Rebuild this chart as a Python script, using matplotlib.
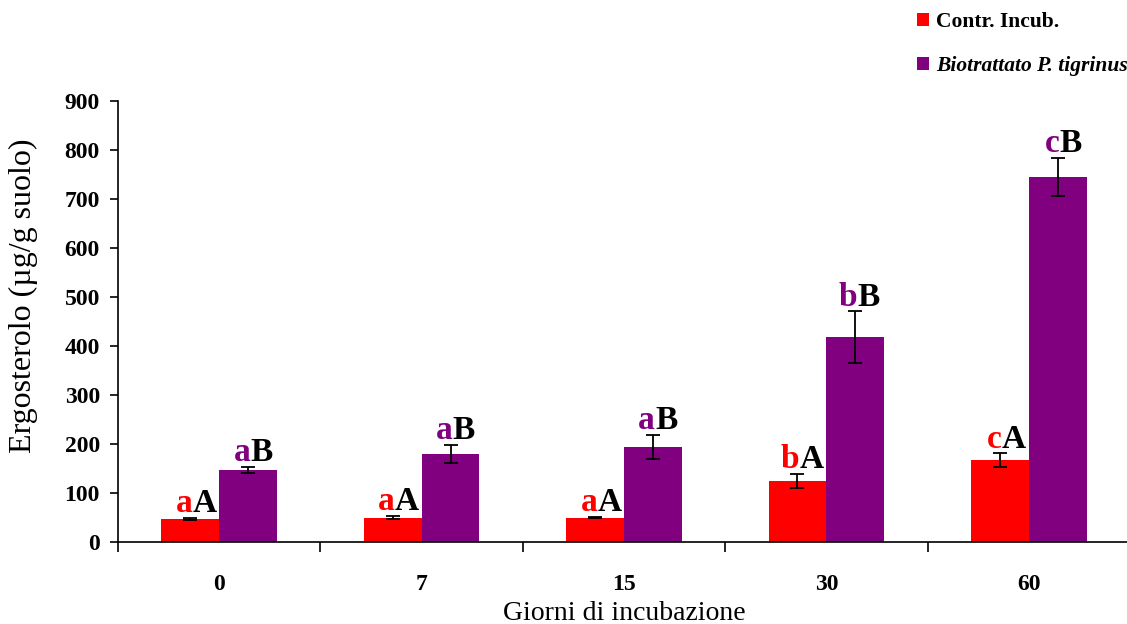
import matplotlib.pyplot as plt
import numpy as np

# Ergosterol content over incubation time
days = ['0', '7', '15', '30', '60']
contr = [47, 50, 50, 125, 167]
contr_err = [2, 4, 1, 14, 14]
biot = [147, 180, 194, 418, 745]
biot_err = [6, 18, 25, 53, 39]
contr_low = ['a', 'a', 'a', 'b', 'c']
biot_low = ['a', 'a', 'a', 'b', 'c']
contr_up = 'A'
biot_up = 'B'

RED = '#ff0000'
PURPLE = '#800080'

plt.rcParams['font.family'] = ['Liberation Serif', 'DejaVu Serif']


def letters(ax, x, y, low, up, color):
    '''Two-coloured significance letters above a bar'''
    ax.annotate(low, (x, y), xytext=(1.5, 4), textcoords='offset points',
                ha='right', va='baseline', color=color,
                fontsize=24, fontweight='bold')
    ax.annotate(up, (x, y), xytext=(1.5, 4), textcoords='offset points',
                ha='left', va='baseline', color='black',
                fontsize=24, fontweight='bold')


def plot_ergosterol():
    fig = plt.figure(figsize=(11.27, 6.24), dpi=100)
    ax = fig.add_axes([0.1047, 0.1314, 0.898, 0.7067])

    x = np.arange(len(days))
    w = 0.286
    ax.bar(x - w / 2, contr, w, color=RED, label='Contr. Incub.')
    ax.bar(x + w / 2, biot, w, color=PURPLE, label='Biotrattato P. tigrinus')
    ax.errorbar(x - w / 2, contr, yerr=contr_err, fmt='none', ecolor='black',
                elinewidth=1.3, capsize=5, capthick=1.3)
    ax.errorbar(x + w / 2, biot, yerr=biot_err, fmt='none', ecolor='black',
                elinewidth=1.3, capsize=5, capthick=1.3)

    for i in range(len(days)):
        letters(ax, x[i] - w / 2, contr[i] + contr_err[i],
                contr_low[i], contr_up, RED)
        letters(ax, x[i] + w / 2, biot[i] + biot_err[i],
                biot_low[i], biot_up, PURPLE)

    ax.set_xlim(-0.5, 4.5)
    ax.set_ylim(0, 900)
    ax.set_yticks(range(0, 901, 100))
    ax.spines['top'].set_visible(False)
    ax.spines['right'].set_visible(False)
    for s in ('left', 'bottom'):
        ax.spines[s].set_linewidth(1.2)

    # boundaries get the tick marks, centres get the labels
    ax.set_xticks(np.arange(-0.5, 5, 1))
    ax.set_xticklabels([])
    ax.set_xticks(x, minor=True)
    ax.set_xticklabels(days, minor=True, fontsize=17, fontweight='bold')
    ax.tick_params(axis='x', which='major', direction='out', length=7, width=1.2)
    ax.tick_params(axis='x', which='minor', length=0, pad=23)
    ax.tick_params(axis='y', direction='out', length=6, width=1.2, pad=7)
    for lab in ax.get_yticklabels():
        lab.set_fontsize(17)
        lab.set_fontweight('bold')

    ax.set_xlabel('Giorni di incubazione', fontsize=20, labelpad=4)
    ax.set_ylabel('Ergosterolo (µg/g suolo)', fontsize=23)
    ax.yaxis.set_label_coords(-0.079, 0.558)

    leg = fig.legend(loc='upper right', bbox_to_anchor=(1.016, 1.008),
                     frameon=False, handlelength=0.55, handleheight=0.55,
                     handletextpad=0.35, labelspacing=1.1, borderaxespad=0.4,
                     prop={'size': 15.5, 'weight': 'bold'})
    leg.get_texts()[1].set_fontstyle('italic')

    fig.savefig('out.png', dpi=100)


def main():
    plot_ergosterol()


if __name__ == "__main__":
    main()
